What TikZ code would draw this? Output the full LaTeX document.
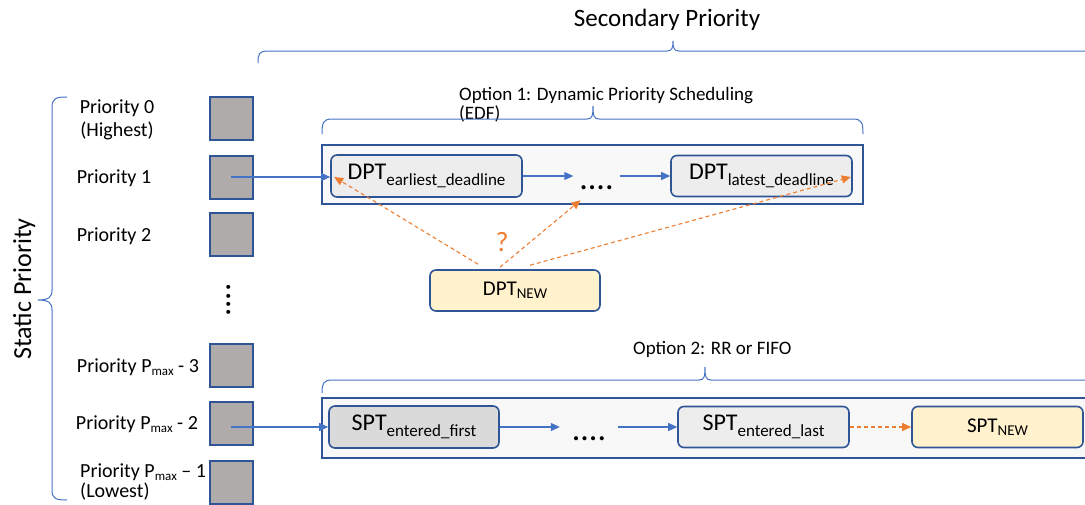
\documentclass[tikz,border=0pt]{standalone}
\usepackage{fontspec}
\setmainfont{Carlito}
\usetikzlibrary{arrows.meta,calc}

\definecolor{edgeblue}{HTML}{2F5597}
\definecolor{linkblue}{HTML}{4472C4}
\definecolor{accent}{HTML}{ED7D31}
\definecolor{slotgray}{HTML}{AFABAB}
\definecolor{cardgray}{HTML}{EDEDED}
\definecolor{carddark}{HTML}{DADADA}
\definecolor{newfill}{HTML}{FFF2CC}
\definecolor{lanefill}{HTML}{F8F8F8}

\newcommand\fsz[1]{\fontsize{#1}{#1}\selectfont}
% lowered, smaller text used as a subscript
\newcommand\lowtxt[3]{\raisebox{-#1pt}{\fsz{#2}#3}}

\tikzset{
  slot/.style={draw=edgeblue, line width=2pt, fill=slotgray,
    minimum width=43pt, minimum height=43pt, inner sep=0pt},
  lane/.style={draw=edgeblue, line width=2pt, fill=lanefill, inner sep=0pt},
  card/.style={draw=edgeblue, line width=1.6pt, rounded corners=6pt,
    inner sep=0pt, fill=cardgray, font=\fsz{24}},
  newcard/.style={card, fill=newfill, font=\fsz{21}},
  link/.style={draw=linkblue, line width=1.2pt,
    -{Triangle[length=9pt,width=8pt]}},
  guess/.style={draw=accent, line width=1.1pt, dash pattern=on 4pt off 3pt,
    -{Triangle[length=9pt,width=8pt]}},
  brace/.style={draw=linkblue, line width=1pt},
  lbl/.style={font=\fsz{20}, inner sep=0pt},
  optlbl/.style={font=\fsz{19}, inner sep=0pt, anchor=base west},
  ellip/.style={font=\fsz{34}, inner sep=0pt, text height=26pt, text depth=0pt},
}

\begin{document}
\begin{tikzpicture}[x=1pt, y=-1pt]
\useasboundingbox (0,0) rectangle (1085,504);
\clip (0,0) rectangle (1085,504);

% ---------- headings and braces ----------
\node[font=\fsz{25}, inner sep=0pt, anchor=base] (sectitle) at (667,26) {Secondary Priority};
\draw[brace] (258,63) .. controls (258,54) and (259,51) .. (268,51) -- (667,51)
  .. controls (672,51) and (673,48) .. (673,41)
  .. controls (673,48) and (674,51) .. (679,51) -- (1095,51);

\node[font=\fsz{26}, inner sep=0pt, anchor=base, rotate=90] (stattitle) at (31,289) {Static Priority};
\draw[brace] (67,97) .. controls (56,97) and (52,98) .. (52,108) -- (52,290)
  .. controls (52,297) and (49,300) .. (38,300)
  .. controls (49,300) and (52,303) .. (52,310) -- (52,490)
  .. controls (52,499) and (56,500) .. (67,500);

\node[optlbl] (opt1) at (459,100) {Option 1: Dynamic Priority Scheduling};
\node[optlbl] (opt1b) at (459,119) {(EDF)};
\draw[brace] (322,134) .. controls (322,123) and (323,119) .. (332,119) -- (587,119)
  .. controls (592,119) and (593,116) .. (593,106)
  .. controls (593,116) and (594,119) .. (599,119) -- (853,119)
  .. controls (862,119) and (863,123) .. (863,134);

\node[optlbl] (opt2) at (633,354) {Option 2: RR or FIFO};
\draw[brace] (322,393) .. controls (322,384) and (323,380) .. (332,380) -- (699,380)
  .. controls (704,380) and (705,377) .. (705,367)
  .. controls (705,377) and (706,380) .. (711,380) -- (1095,380);

% ---------- priority levels ----------
\node[lbl, anchor=base] (p0) at (117,113) {Priority 0};
\node[lbl, anchor=base] (p0b) at (117,136) {(Highest)};
\node[lbl, anchor=base] (p1) at (114,183) {Priority 1};
\node[lbl, anchor=base] (p2) at (114,241) {Priority 2};
\node[lbl, anchor=base] (p3) at (138,372) {Priority P\lowtxt{3}{13}{max} - 3};
\node[lbl, anchor=base] (p4) at (137,429) {Priority P\lowtxt{3}{13}{max} - 2};
\node[lbl, anchor=base west] (p5) at (80,477) {Priority P\lowtxt{3}{13}{max} -- 1};
\node[lbl, anchor=base west] (p5b) at (80,497) {(Lowest)};

\node[slot] (sq0) at (231,118.5) {};
\node[slot] (sq1) at (231,177) {};
\node[slot] (sq2) at (231,234.5) {};
\node[font=\fsz{33}, inner sep=0pt, rotate=90] (vdots) at (229,300) {....};
\node[slot] (sq3) at (231,365.5) {};
\node[slot] (sq4) at (231,423) {};
\node[slot] (sq5) at (231,482.5) {};

% ---------- option 1 lane ----------
\node[lane, minimum width=541pt, minimum height=59pt] (lane1) at (592.5,174.5) {};
\node[card, minimum width=191pt, minimum height=42pt] (dpte) at (426.5,176)
  {DPT\lowtxt{6}{17}{earliest\_deadline}};
\node[ellip, minimum width=46pt] (dots1) at (596.5,176) {....};
\node[card, minimum width=181pt, minimum height=41pt] (dptl) at (761.5,176)
  {DPT\lowtxt{6}{17}{latest\_deadline}};
\node[newcard, minimum width=170pt, minimum height=41pt] (dptn) at (515,290.5)
  {DPT\lowtxt{3}{15}{NEW}};
\node[font=\fsz{28}, text=accent, inner sep=0pt] (ask) at (502,242) {?};

\draw[link] (sq1.center) -- (sq1.center -| dpte.west);
\draw[link] (dpte.east) -- (dots1.west);
\draw[link] (dots1.east) -- (dptl.west);

\coordinate (g1s) at ($(dptn.north)+(-37,-5)$);
\coordinate (g2s) at ($(dptn.north)+(-15,-2)$);
\coordinate (g3s) at ($(dptn.north)+(15,-4)$);
\coordinate (g1e) at ($(dpte.west)+(4,1)$);
\coordinate (g2e) at ($(dots1.south)+(-16,11)$);
\coordinate (g3e) at ($(dptl.east)+(-2,1)$);
\draw[guess] (g1s) -- (g1e);
\draw[guess] (g2s) -- (g2e);
\draw[guess] (g3s) -- (g3e);

% ---------- option 2 lane ----------
\node[lane, minimum width=773pt, minimum height=60pt] (lane2) at (708.5,428) {};
\node[card, fill=carddark, minimum width=170pt, minimum height=42pt] (spf) at (414,427)
  {SPT\lowtxt{6}{17}{entered\_first}};
\node[ellip, minimum width=58pt] (dots2) at (589,427) {....};
\node[card, minimum width=171pt, minimum height=41pt] (spl) at (763.5,427)
  {SPT\lowtxt{6}{17}{entered\_last}};
\node[newcard, minimum width=171pt, minimum height=41pt] (spn) at (997.5,427)
  {SPT\lowtxt{3}{15}{NEW}};

\draw[link] (sq4.center |- spf.west) -- (spf.west);
\draw[link] (spf.east) -- (dots2.west);
\draw[link] (dots2.east) -- (spl.west);
\draw[guess] (spl.east) -- (spn.west);
\end{tikzpicture}
\end{document}
